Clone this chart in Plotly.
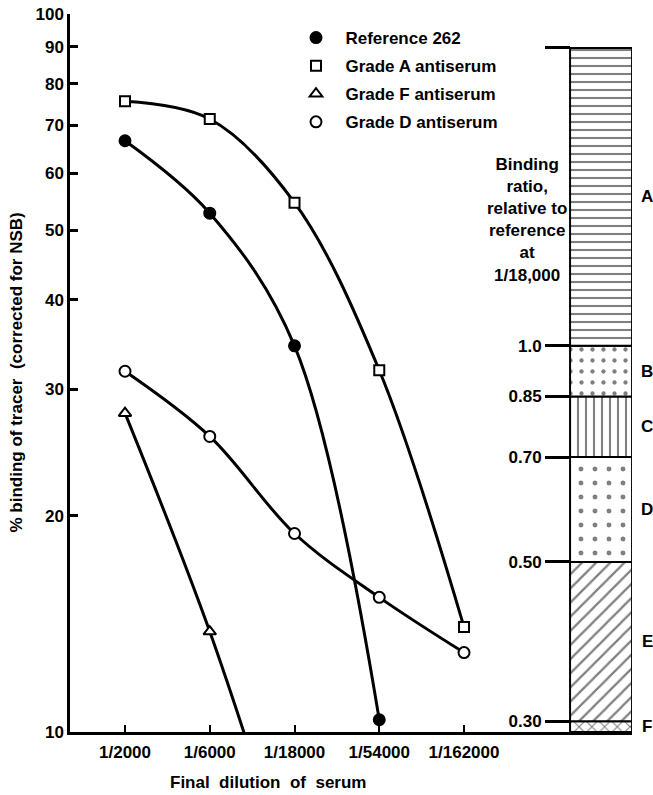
import math
import plotly.graph_objects as go

# ---------------- data ----------------
dilutions = ["1/2000", "1/6000", "1/18000", "1/54000", "1/162000"]
reference_262 = [66.6, 52.8, 34.5, 10.4]
grade_a = [75.6, 71.4, 54.6, 31.9, 14.0]
grade_f = [27.8, 13.8]
grade_f_curve = [27.8, 13.8, 6.0]          # line continues below the axis floor
grade_d = [31.8, 25.8, 18.9, 15.4, 12.9]
y_ticks = [10, 20, 30, 40, 50, 60, 70, 80, 90, 100]

grade_labels = ["F", "E", "D", "C", "B", "A"]
ratio_bounds = [0.30, 0.50, 0.70, 0.85, 1.0]
ratio_ticktext = ["0.30", "0.50", "0.70", "0.85", "1.0"]
ratio_top = 2.6

# ---------------- styling ----------------
FONT = "Liberation Sans, Arial, sans-serif"
BLACK = "#000000"
W, H = 653, 795
ML, MR, MT, MB = 70, 21, 14, 63
PW, PH = W - ML - MR, H - MT - MB

def px_x(p):
    return (p - ML) / PW

def px_y(p):
    return 1 - (p - MT) / PH

x_range = [-0.649, 5.982]
BAR_X = 5.617
BAR_W = 0.7316

ref18 = reference_262[2]
y2_lo, y2_hi = math.log10(10 / ref18), math.log10(100 / ref18)
ratio_floor = 10 ** y2_lo

pos = list(range(len(dilutions)))

fig = go.Figure()

# curves
curves = [
    (pos[:len(reference_262)], reference_262),
    (pos, grade_a),
    (pos[:len(grade_f_curve)], grade_f_curve),
    (pos, grade_d),
]
for xs, ys in curves:
    fig.add_trace(go.Scatter(
        x=xs, y=ys, mode="lines",
        line=dict(color=BLACK, width=3, shape="spline", smoothing=1.0),
        showlegend=False, hoverinfo="skip"))

# markers (legend)
series = [
    ("Reference 262", reference_262, "circle", BLACK, 11),
    ("Grade A antiserum", grade_a, "square", "white", 10),
    ("Grade F antiserum", grade_f, "triangle-up", "white", 11),
    ("Grade D antiserum", grade_d, "circle", "white", 11),
]
for i, (name, ys, sym, fill, sz) in enumerate(series):
    fig.add_trace(go.Scatter(
        x=pos[:len(ys)], y=ys, mode="markers",
        name="\u00a0\u00a0" + name, legendgroup=f"g{i}",
        marker=dict(symbol=sym, color=fill, size=sz,
                    line=dict(color=BLACK, width=2))))

# right-hand binding-ratio scale bar
lowers = [ratio_floor] + ratio_bounds
uppers = ratio_bounds + [ratio_top]
patterns = [
    dict(shape="x", size=9, solidity=0.22),
    dict(shape="/", size=10, solidity=0.22),
    dict(shape=".", size=14, solidity=0.1),
    dict(shape="|", size=8, solidity=0.26),
    dict(shape=".", size=11, solidity=0.12),
    dict(shape="-", size=8, solidity=0.26),
]
for lo, hi, pat in zip(lowers, uppers, patterns):
    fig.add_trace(go.Bar(
        x=[BAR_X], y=[hi - lo], base=[lo], width=BAR_W, yaxis="y2",
        marker=dict(color="white", line=dict(color=BLACK, width=2),
                    pattern=dict(fgcolor=BLACK, bgcolor="white", **pat)),
        showlegend=False, hoverinfo="skip"))

TXT = dict(family=FONT, size=17, color=BLACK, weight="bold")

annotations = []
for lab, lo, hi in zip(grade_labels, lowers, uppers):
    annotations.append(dict(
        x=px_x(647), xref="paper", y=math.log10(math.sqrt(lo * hi)), yref="y2",
        text=lab, showarrow=False, xanchor="center", yanchor="middle",
        font=TXT))

annotations.append(dict(
    x=px_x(527), xref="paper", y=px_y(219.5), yref="paper",
    text="Binding<br>ratio,<br>relative to<br>reference<br>at<br>1/18,000",
    showarrow=False, xanchor="center", yanchor="middle", align="center",
    font=TXT))

annotations.append(dict(
    x=px_x(16), xref="paper", y=px_y(372.5), yref="paper",
    text="% binding of tracer  (corrected for NSB)", textangle=-90,
    showarrow=False, xanchor="center", yanchor="middle",
    font=TXT))

annotations.append(dict(
    x=px_x(267.5), xref="paper", y=px_y(782), yref="paper",
    text="Final  dilution  of  serum",
    showarrow=False, xanchor="center", yanchor="middle",
    font=TXT))

fig.update_layout(
    width=W, height=H,
    margin=dict(l=ML, r=MR, t=MT, b=MB, autoexpand=False),
    paper_bgcolor="white", plot_bgcolor="white",
    barmode="overlay",
    font=dict(family=FONT, color=BLACK),
    showlegend=True,
    legend=dict(x=px_x(296), y=px_y(20), xanchor="left", yanchor="top",
                bgcolor="rgba(0,0,0,0)", traceorder="grouped",
                tracegroupgap=3, font=TXT),
    xaxis=dict(range=x_range, tickvals=pos, ticktext=dilutions,
               showline=True, linecolor=BLACK, linewidth=2.5,
               ticks="inside", ticklen=7, tickwidth=2, tickcolor=BLACK,
               ticklabelstandoff=3,
               showgrid=False, zeroline=False, tickfont=TXT),
    yaxis=dict(type="log", range=[1, 2], tickvals=y_ticks,
               ticktext=[str(v) for v in y_ticks],
               showline=True, linecolor=BLACK, linewidth=2.5,
               ticks="inside", ticklen=8, tickwidth=2.5, tickcolor=BLACK,
               showgrid=False, zeroline=False, tickfont=TXT),
    yaxis2=dict(type="log", range=[y2_lo, y2_hi], overlaying="y",
                anchor="free", position=px_x(570), side="left",
                tickvals=ratio_bounds + [ratio_top],
                ticktext=ratio_ticktext + [""],
                ticks="outside", ticklen=25, tickwidth=2.5, tickcolor=BLACK,
                showline=False, showgrid=False, zeroline=False,
                tickfont=TXT),
    annotations=annotations,
)

fig.write_html(
    "out.html",
    config={"displayModeBar": False},
    post_script="document.body.style.margin='0px';"
                "document.body.style.overflow='hidden';",
)
